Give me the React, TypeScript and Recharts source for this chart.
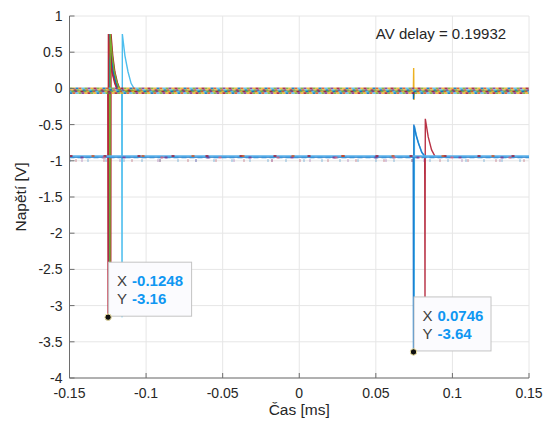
import React from 'react';
import { LineChart, Line, XAxis, YAxis, CartesianGrid, ReferenceDot, Label } from 'recharts';

// ---------- axes ----------
const xTicks = [-0.15, -0.1, -0.05, 0, 0.05, 0.1, 0.15];
const xTickLabels = ['-0.15', '-0.1', '-0.05', '0', '0.05', '0.1', '0.15'];
const yTicks = [1, 0.5, 0, -0.5, -1, -1.5, -2, -2.5, -3, -3.5, -4];
const yTickLabels = ['1', '0.5', '0', '-0.5', '-1', '-1.5', '-2', '-2.5', '-3', '-3.5', '-4'];
const xLabel = 'Čas [ms]';
const yLabel = 'Napětí [V]';
const annotation = 'AV delay = 0.19932';

// ---------- upper (atrial) traces: [time ms, voltage V] ----------
const upperRed = [[-0.15, -0.035], [-0.1250, -0.035], [-0.1248, -3.16], [-0.1246, 0.75], [-0.1235, 0.45], [-0.1222, 0.22], [-0.1205, 0.07], [-0.1185, -0.035], [0.15, -0.035]];
const upperGreen = [[-0.15, -0.035], [-0.1238, -0.035], [-0.1236, -3.05], [-0.1234, 0.75], [-0.1222, 0.47], [-0.1208, 0.24], [-0.1190, 0.08], [-0.1170, -0.035], [0.15, -0.035]];
const upperOrange = [[-0.15, -0.035], [-0.1244, -0.035], [-0.1242, -2.9], [-0.1240, 0.75], [-0.1229, 0.42], [-0.1215, 0.2], [-0.1198, 0.06], [-0.1178, -0.035], [0.15, -0.035]];
const upperYellow = [[-0.15, -0.035], [-0.1241, -0.035], [-0.1239, -2.8], [-0.1237, 0.75], [-0.1226, 0.44], [-0.1212, 0.21], [-0.1195, 0.06], [-0.1175, -0.035], [0.0745, -0.035], [0.0747, 0.28], [0.0749, -0.16], [0.0751, -0.035], [0.15, -0.035]];
const upperPurple = [[-0.15, -0.035], [-0.1246, -0.035], [-0.1244, -2.95], [-0.1242, 0.75], [-0.1231, 0.43], [-0.1218, 0.2], [-0.1200, 0.06], [-0.1180, -0.035], [0.15, -0.035]];
const upperBlue = [[-0.15, -0.035], [-0.1242, -0.035], [-0.1240, -2.85], [-0.1238, 0.75], [-0.1227, 0.44], [-0.1213, 0.22], [-0.1196, 0.07], [-0.1176, -0.035], [0.0745, -0.035], [0.0746, -0.15], [0.0748, -0.035], [0.15, -0.035]];
const upperDarkRed = [[-0.15, -0.035], [-0.1233, -0.035], [-0.1231, -3.0], [-0.1229, 0.75], [-0.1218, 0.46], [-0.1204, 0.23], [-0.1186, 0.07], [-0.1166, -0.035], [0.15, -0.035]];
const upperLightBlue = [[-0.15, -0.035], [-0.1159, -0.035], [-0.1157, -3.16], [-0.1155, 0.75], [-0.1138, 0.45], [-0.1118, 0.23], [-0.1098, 0.07], [-0.1073, -0.02], [-0.1050, -0.035], [0.15, -0.035]];

// ---------- lower (ventricular) traces ----------
const lowerBlue = [[-0.15, -0.945], [0.0744, -0.945], [0.0746, -3.64], [0.0748, -0.5], [0.0762, -0.64], [0.0777, -0.75], [0.0799, -0.88], [0.0822, -0.945], [0.15, -0.945]];
const lowerLightBlue = [[-0.15, -0.945], [0.0748, -0.945], [0.0750, -3.5], [0.0752, -0.52], [0.0766, -0.66], [0.0781, -0.77], [0.0802, -0.89], [0.0825, -0.945], [0.15, -0.945]];
const lowerRed = [[-0.15, -0.945], [0.0819, -0.945], [0.0821, -2.88], [0.0823, -0.42], [0.0842, -0.67], [0.0864, -0.85], [0.0888, -0.945], [0.15, -0.945]];

// ---------- noise band levels ----------
const bandSpan = [-0.15, 0.15];
const upperBandLevels = [0.0, -0.022, -0.044, -0.066];
const lowerBandLevels = [-0.935, -0.955];
const lowerTickLevel = -0.995;

// ---------- data tips ----------
const tip1 = { t: -0.1248, v: -3.16, xs: '-0.1248', ys: '-3.16' };
const tip2 = { t: 0.0746, v: -3.64, xs: '0.0746', ys: '-3.64' };
const annotationPos = { t: 0.05, v: 0.682 };

const C = {
  blue: '#0072BD', orange: '#D95319', yellow: '#EDB120', purple: '#7E2F8E',
  green: '#77AC30', lightBlue: '#4DBEEE', red: '#A2142F',
};
const bandColors = [C.green, C.yellow, C.blue, C.orange, C.lightBlue, C.green, C.purple, C.yellow, C.red];

const toPts = (arr: number[][]) => arr.map(([t, v]) => ({ t, v }));
const flat = (level: number) => bandSpan.map((t) => ({ t, v: level }));

const font = '"Liberation Sans", Arial, Helvetica, sans-serif';
const axisColor = '#6e6e6e';
const textColor = '#262626';

const traces = [
  { d: upperOrange, c: C.orange },
  { d: upperYellow, c: C.yellow },
  { d: upperPurple, c: C.purple },
  { d: upperBlue, c: C.blue },
  { d: upperDarkRed, c: '#B2182B' },
  { d: upperRed, c: '#B8273B' },
  { d: upperGreen, c: C.green },
  { d: upperLightBlue, c: C.lightBlue },
  { d: lowerRed, c: '#B83245' },
  { d: lowerLightBlue, c: C.lightBlue },
  { d: lowerBlue, c: '#1f7fd0' },
];

const makeTip = (xs: string, ys: string, w: number) => (p: any) => {
  const cx = p.cx, cy = p.cy;
  return (
    <g>
      <rect x={cx + 0.5} y={cy - 55} width={w} height={54} fill="#fbfbfe" stroke="#c4c4c4" strokeWidth={1} />
      <text x={cx + 9} y={cy - 31} fontSize={15} fill="#404040" fontFamily={font}>X</text>
      <text x={cx + 24} y={cy - 31} fontSize={15} fontWeight="bold" fill="#0f97f2" fontFamily={font}>{xs}</text>
      <text x={cx + 9} y={cy - 13} fontSize={15} fill="#404040" fontFamily={font}>Y</text>
      <text x={cx + 24} y={cy - 13} fontSize={15} fontWeight="bold" fill="#0f97f2" fontFamily={font}>{ys}</text>
      <circle cx={cx} cy={cy} r={3.2} fill="#111" stroke="#f3e7a6" strokeWidth={1} />
    </g>
  );
};

export default function App() {
  const lines: React.ReactNode[] = [];
  traces.forEach((tr, i) => {
    lines.push(
      <Line key={'tr' + i} data={toPts(tr.d)} dataKey="v" type="linear" stroke={tr.c}
        strokeWidth={1.4} dot={false} isAnimationActive={false} />
    );
  });
  upperBandLevels.forEach((lv, li) => {
    bandColors.forEach((c, ci) => {
      lines.push(
        <Line key={`ub${li}-${ci}`} data={flat(lv)} dataKey="v" stroke={c} strokeWidth={1.7}
          strokeOpacity={0.85}
          strokeDasharray="3 24" strokeDashoffset={-(ci * 3 + li * 7)} dot={false} isAnimationActive={false} />
      );
    });
  });
  lines.push(
    <Line key="lb0" data={flat(lowerBandLevels[0])} dataKey="v" stroke="#5bb0ea" strokeWidth={1.8}
      dot={false} isAnimationActive={false} />
  );
  lines.push(
    <Line key="lb1" data={flat(lowerBandLevels[1])} dataKey="v" stroke="#3b93d8" strokeWidth={1.5}
      strokeDasharray="5 3" dot={false} isAnimationActive={false} />
  );
  [C.red, C.purple, C.orange, '#e05b7a'].forEach((c, ci) => {
    lines.push(
      <Line key={'lbd' + ci} data={flat(lowerBandLevels[ci % 2])} dataKey="v" stroke={c} strokeWidth={2}
        strokeOpacity={0.75}
        strokeDasharray={`3 ${31 + ci * 8}`} strokeDashoffset={-(ci * 11)} dot={false} isAnimationActive={false} />
    );
  });
  [C.blue, C.red, C.purple].forEach((c, ci) => {
    lines.push(
      <Line key={'lt' + ci} data={flat(lowerTickLevel)} dataKey="v" stroke={c} strokeWidth={3}
        strokeDasharray={`1 ${17 + ci * 10}`} strokeDashoffset={-(ci * 6)} strokeOpacity={0.45}
        dot={false} isAnimationActive={false} />
    );
  });

  return (
    <div style={{ position: 'absolute', left: 0, top: 0, background: '#fff' }}>
      <LineChart width={554} height={430} margin={{ top: 16, right: 25, bottom: 0, left: 10 }}
        style={{ fontFamily: font }}>
        <CartesianGrid stroke="#e6e6e6" strokeWidth={1} />
        <XAxis type="number" dataKey="t" domain={[-0.15, 0.15]} ticks={xTicks} interval={0}
          allowDataOverflow height={52}
          tickFormatter={(v: number) => xTickLabels[xTicks.findIndex((t) => Math.abs(t - v) < 1e-9)] ?? String(v)}
          tick={{ fill: textColor, fontSize: 14 }} tickSize={-5} tickMargin={15.5}
          axisLine={{ stroke: axisColor }} tickLine={{ stroke: axisColor }}>
          <Label content={(p: any) => {
            const vb = p.viewBox || { x: 69.5, y: 378, width: 459.5, height: 52 };
            return <text x={vb.x + vb.width / 2} y={415} textAnchor="middle" fontSize={15.5} fill={textColor} fontFamily={font}>{xLabel}</text>;
          }} />
        </XAxis>
        <YAxis type="number" domain={[-4, 1]} ticks={yTicks} interval={0} allowDataOverflow width={59.5}
          tickFormatter={(v: number) => yTickLabels[yTicks.findIndex((t) => Math.abs(t - v) < 1e-9)] ?? String(v)}
          tick={{ fill: textColor, fontSize: 14 }} tickSize={-5} tickMargin={12}
          axisLine={{ stroke: axisColor }} tickLine={{ stroke: axisColor }}>
          <Label content={(p: any) => {
            const vb = p.viewBox || { x: 10, y: 16, width: 59.5, height: 362 };
            const cy = vb.y + vb.height / 2;
            return <text x={26} y={cy} transform={`rotate(-90, 26, ${cy})`} textAnchor="middle" fontSize={15.5} fill={textColor} fontFamily={font}>{yLabel}</text>;
          }} />
        </YAxis>
        {lines}
        <ReferenceDot x={tip1.t} y={tip1.v} r={3} shape={makeTip(tip1.xs, tip1.ys, 83)} />
        <ReferenceDot x={tip2.t} y={tip2.v} r={3} shape={makeTip(tip2.xs, tip2.ys, 77)} />
        <ReferenceDot x={annotationPos.t} y={annotationPos.v} r={0}
          shape={(p: any) => <text x={p.cx} y={p.cy} fontSize={15} fill={textColor} fontFamily={font}>{annotation}</text>} />
      </LineChart>
    </div>
  );
}
